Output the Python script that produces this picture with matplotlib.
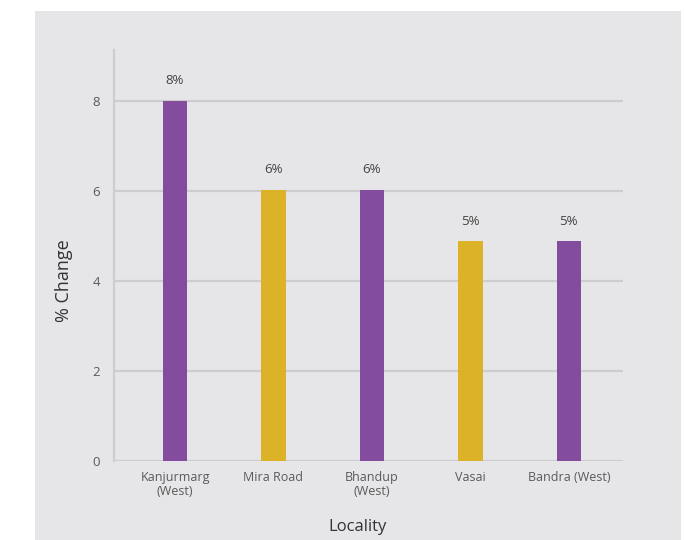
import numpy as np
import matplotlib.pyplot as plt
from matplotlib.patches import Rectangle

localities = ["Kanjurmarg\n(West)", "Mira Road", "Bhandup\n(West)", "Vasai", "Bandra (West)"]
change = [8.0, 6.02, 6.02, 4.88, 4.88]
bar_labels = ["8%", "6%", "6%", "5%", "5%"]
bar_colors = ["#844c9f", "#dcb228", "#844c9f", "#dcb228", "#844c9f"]
yticks = [0, 2, 4, 6, 8]

plt.rcParams['font.family'] = ['Open Sans', 'DejaVu Sans']
textcol = "#5a5a5a"
gridcol = "#cdcdcf"

fig = plt.figure(figsize=(6.84, 5.4), dpi=100)
fig.patch.set_facecolor("white")
fig.patches.append(Rectangle((35/684, 0), (681-35)/684, (540-11)/540,
                             transform=fig.transFigure, facecolor="#e6e6e8",
                             edgecolor="none", zorder=-10))

ax = fig.add_axes([114/684, 79/540, (623-114)/684, (461-50)/540])
ax.patch.set_alpha(0)

x = np.arange(len(localities))
ax.bar(x, change, width=0.25, color=bar_colors, zorder=3)
for xi, v, lab in zip(x, change, bar_labels):
    ax.text(xi, v + 0.3, lab, ha="center", va="bottom", fontsize=9.5, color="#444444")

ax.set_xlim(-0.62, 4.55)
ax.set_ylim(0, 9.13)
ax.set_yticks(yticks)
ax.set_xticks(x)
ax.set_xticklabels(localities, linespacing=1.15)
ax.tick_params(axis="both", length=0, colors=textcol, labelsize=9)
ax.tick_params(axis="y", pad=10, labelsize=9.5)
ax.tick_params(axis="x", pad=7)
ax.grid(axis="y", color=gridcol, linewidth=1.6, zorder=1)
for s in ["top", "right", "bottom"]:
    ax.spines[s].set_visible(False)
ax.spines["left"].set_color(gridcol)
ax.spines["left"].set_linewidth(1.6)

ax.set_ylabel("% Change", fontsize=13, color="#333333", labelpad=14)
ax.set_xlabel("Locality", fontsize=12, color="#333333", labelpad=15)
# labels sit a little off-centre in the original
ax.yaxis.label.set_y(0.44)
ax.xaxis.label.set_x(0.479)

fig.savefig("out.png", dpi=100)
